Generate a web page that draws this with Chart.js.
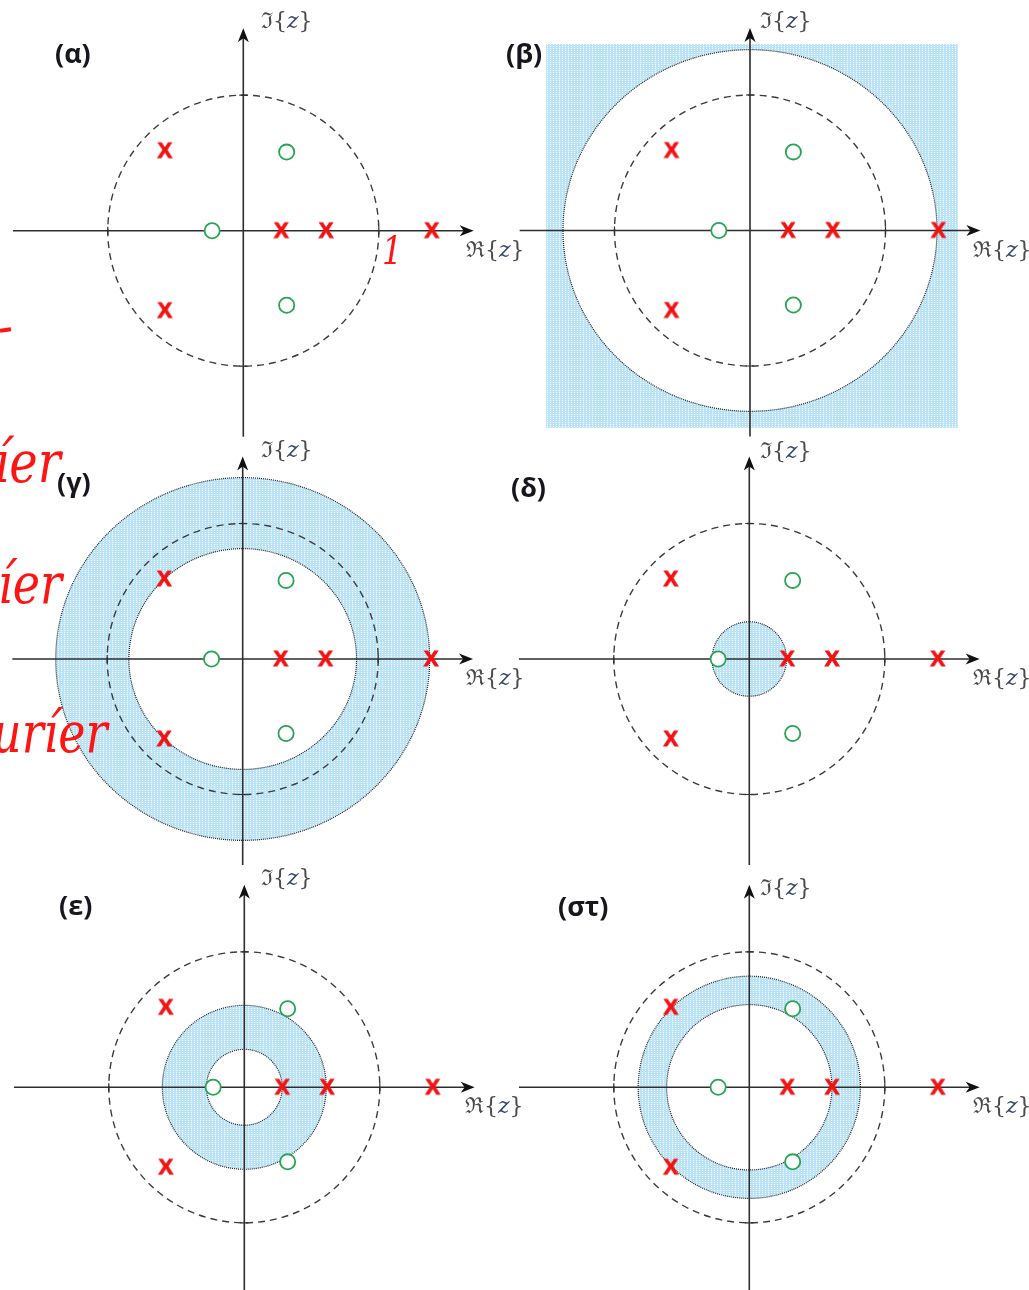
<!DOCTYPE html>
<html>
<head>
<meta charset="utf-8">
<script src="https://cdn.jsdelivr.net/npm/chart.js@4.4.0/dist/chart.umd.min.js"></script>
<style>
  html, body { margin: 0; padding: 0; background: #fff; }
  body { width: 1029px; height: 1290px; position: relative; overflow: hidden; }
  canvas { position: absolute; }
  .title { position: absolute; font-family: "Open Sans", Lato, sans-serif; font-weight: 700; font-size: 27px; line-height: 32px; color: #16161e; white-space: nowrap; }
  .axlbl { position: absolute; font-family: "DejaVu Serif", serif; font-size: 22px; line-height: 28px; color: #4a4a4a; white-space: nowrap; }
  .axlbl i { color: #33456b; }
  .note { position: absolute; color: #ff1414; font-family: "DejaVu Serif", serif; font-style: italic; white-space: nowrap; transform-origin: 0 0; }
</style>
</head>
<body>
<script>
// 極・零点（z平面）
const poleRe = [-0.58, -0.58, 0.28, 0.61, 1.39];
const poleIm = [0.59, -0.59, 0, 0, 0];
const zeroRe = [-0.23, 0.32, 0.32];
const zeroIm = [0, 0.58, -0.55];

// 各パネルのラベルと収束領域（ROC）
const panelNames = ['(α)', '(β)', '(γ)', '(δ)', '(ε)', '(στ)'];
const rocInner = [null, 1.38, 0.84, 0, 0.28, 0.61];
const rocOuter = [null, Infinity, 1.38, 0.275, 0.605, 0.82];
const unitRadius = 1;

// 軸の範囲
const axisX = [-1.70, 1.70];
const axisY = [-1.52, 1.495];

// レイアウト（ピクセル）
const U = 135.5; // 単位円の半径
const panelOrigin = [[243.3, 230.7], [750, 230.5], [242.7, 659], [749.3, 659], [244.3, 1087.3], [749.3, 1087.3]];
const rocSquash = [1, 0.967, 0.97, 1, 1, 1];
const rocBox = [-1.505, 1.533, -1.455, 1.376]; // (β) の塗りつぶし範囲
const titlePos = [[55, 37], [506, 37], [57, 466], [511, 471], [59, 889], [558, 890]];
const imLabelPos = [[261, 7], [760, 7], [261, 436], [760, 437], [261, 864], [760, 874]];
const reLabelPos = [[466, 236], [973, 236], [466, 664], [973, 664], [465, 1092], [973, 1092]];
const CW = 522, CH = 446;

// ROCの点描パターン
function makePattern(ctx) {
  const c = document.createElement('canvas');
  c.width = 3; c.height = 2;
  const g = c.getContext('2d');
  g.fillStyle = '#b8e3f8';
  g.fillRect(0, 0, 3, 2);
  g.fillStyle = '#ffffff';
  g.fillRect(1, 0, 1, 1);
  return ctx.createPattern(c, 'repeat');
}

// 極のマーカー（太字のX）
function makeCross() {
  const c = document.createElement('canvas');
  c.width = 20; c.height = 20;
  const g = c.getContext('2d');
  g.fillStyle = '#f31212';
  g.strokeStyle = '#f31212';
  g.lineWidth = 0.9;
  g.font = 'bold 22px "Liberation Sans", Arial, sans-serif';
  g.textAlign = 'center';
  g.textBaseline = 'middle';
  g.fillText('X', 10, 11);
  g.strokeText('X', 10, 11);
  return c;
}
const crossImg = makeCross();

function planePlugin(i) {
  return {
    id: 'plane' + i,
    beforeDatasetsDraw(chart) {
      const ctx = chart.ctx;
      const xs = chart.scales.x, ys = chart.scales.y;
      const x0 = xs.getPixelForValue(0), y0 = ys.getPixelForValue(0);
      const rx = xs.getPixelForValue(1) - x0;
      const ry = y0 - ys.getPixelForValue(1);

      // 収束領域
      if (rocInner[i] !== null) {
        const sq = rocSquash[i];
        ctx.save();
        ctx.beginPath();
        if (rocOuter[i] === Infinity) {
          const l = xs.getPixelForValue(rocBox[0]), r = xs.getPixelForValue(rocBox[1]);
          const b = ys.getPixelForValue(rocBox[2]), t = ys.getPixelForValue(rocBox[3]);
          ctx.rect(l, t, r - l, b - t);
        } else {
          ctx.ellipse(x0, y0, rx * rocOuter[i], ry * rocOuter[i] * sq, 0, 0, Math.PI * 2);
        }
        if (rocInner[i] > 0) {
          ctx.moveTo(x0 + rx * rocInner[i], y0);
          ctx.ellipse(x0, y0, rx * rocInner[i], ry * rocInner[i] * sq, 0, 0, Math.PI * 2);
        }
        ctx.fillStyle = makePattern(ctx);
        ctx.fill('evenodd');
        // 境界（点線）
        ctx.setLineDash([1, 1]);
        ctx.lineWidth = 1.2;
        ctx.strokeStyle = '#222';
        [rocInner[i], rocOuter[i]].forEach(rr => {
          if (rr > 0 && rr !== Infinity) {
            ctx.beginPath();
            ctx.ellipse(x0, y0, rx * rr, ry * rr * sq, 0, 0, Math.PI * 2);
            ctx.stroke();
          }
        });
        ctx.restore();
      }

      // 単位円（破線）
      ctx.save();
      ctx.beginPath();
      ctx.setLineDash([7, 5]);
      ctx.lineWidth = 1.4;
      ctx.strokeStyle = '#3c3c3c';
      ctx.ellipse(x0, y0, rx * unitRadius, ry * unitRadius, 0, 0, Math.PI * 2);
      ctx.stroke();
      ctx.restore();

      // 軸
      ctx.save();
      ctx.strokeStyle = '#2e2e2e';
      ctx.fillStyle = '#111';
      ctx.lineWidth = 1.6;
      const xl = xs.getPixelForValue(axisX[0]), xr = xs.getPixelForValue(axisX[1]);
      const yb = ys.getPixelForValue(axisY[0]), yt = ys.getPixelForValue(axisY[1]);
      ctx.beginPath();
      ctx.moveTo(xl, y0); ctx.lineTo(xr - 6, y0);
      ctx.moveTo(x0, yb); ctx.lineTo(x0, yt + 6);
      ctx.stroke();
      // 矢印
      ctx.beginPath();
      ctx.moveTo(xr, y0); ctx.lineTo(xr - 14, y0 - 5.5); ctx.lineTo(xr - 10, y0); ctx.lineTo(xr - 14, y0 + 5.5);
      ctx.closePath();
      ctx.moveTo(x0, yt); ctx.lineTo(x0 - 5.5, yt + 14); ctx.lineTo(x0, yt + 10); ctx.lineTo(x0 + 5.5, yt + 14);
      ctx.closePath();
      ctx.fill();
      // ±1 の目盛り
      ctx.lineWidth = 1.2;
      ctx.beginPath();
      [-1, 1].forEach(v => {
        const tx = xs.getPixelForValue(v), ty = ys.getPixelForValue(v);
        ctx.moveTo(tx, y0 - 4); ctx.lineTo(tx, y0 + 4);
        ctx.moveTo(x0 - 4, ty); ctx.lineTo(x0 + 4, ty);
      });
      ctx.stroke();
      ctx.restore();
    }
  };
}

function buildPanel(i) {
  const [ox, oy] = panelOrigin[i];
  const left = Math.round(ox) - 243, top = Math.round(oy) - 231;
  const canvas = document.createElement('canvas');
  canvas.width = CW; canvas.height = CH;
  canvas.style.left = left + 'px';
  canvas.style.top = top + 'px';
  document.body.appendChild(canvas);

  new Chart(canvas.getContext('2d'), {
    type: 'scatter',
    data: {
      datasets: [
        {
          label: 'zeros',
          data: zeroRe.map((re, k) => ({ x: re, y: zeroIm[k] })),
          pointStyle: 'circle',
          pointRadius: 7.6,
          borderWidth: 1.8,
          borderColor: '#27a552',
          backgroundColor: '#ffffff'
        },
        {
          label: 'poles',
          data: poleRe.map((re, k) => ({ x: re, y: poleIm[k] })),
          pointStyle: crossImg,
          pointRadius: 10
        }
      ]
    },
    options: {
      responsive: false,
      animation: false,
      events: [],
      layout: { padding: 0, autoPadding: false },
      plugins: { legend: { display: false }, tooltip: { enabled: false } },
      scales: {
        x: { type: 'linear', display: false, min: (left - ox) / U, max: (left + CW - ox) / U },
        y: { type: 'linear', display: false, min: (oy - top - CH) / U, max: (oy - top) / U }
      }
    },
    plugins: [planePlugin(i)]
  });

  const t = document.createElement('div');
  t.className = 'title';
  t.textContent = panelNames[i];
  t.style.left = titlePos[i][0] + 'px';
  t.style.top = titlePos[i][1] + 'px';
  document.body.appendChild(t);

  const im = document.createElement('div');
  im.className = 'axlbl';
  im.innerHTML = 'ℑ{<i>z</i>}';
  im.style.left = imLabelPos[i][0] + 'px';
  im.style.top = imLabelPos[i][1] + 'px';
  document.body.appendChild(im);

  const re = document.createElement('div');
  re.className = 'axlbl';
  re.innerHTML = 'ℜ{<i>z</i>}';
  re.style.left = reLabelPos[i][0] + 'px';
  re.style.top = reLabelPos[i][1] + 'px';
  document.body.appendChild(re);
}

document.addEventListener('DOMContentLoaded', () => {
  for (let i = 0; i < 6; i++) buildPanel(i);

  // 手書きのメモ
  const notes = [
    { text: '1', x: 382, y: 228, size: 32 },
    { text: 'íer', x: -6, y: 428, size: 48 },
    { text: 'íer', x: -2, y: 551, size: 46 },
    { text: 'uríer', x: -8, y: 700, size: 46 }
  ];
  notes.forEach(n => {
    const d = document.createElement('div');
    d.className = 'note';
    d.textContent = n.text;
    d.style.left = n.x + 'px';
    d.style.top = n.y + 'px';
    d.style.fontSize = n.size + 'px';
    d.style.transform = 'scaleY(1.2)';
    document.body.appendChild(d);
  });
  const mark = document.createElement('div');
  mark.style.cssText = 'position:absolute;left:0;top:328px;width:11px;height:4px;background:#ff1414;transform:rotate(-8deg);';
  document.body.appendChild(mark);
});
</script>
</body>
</html>
